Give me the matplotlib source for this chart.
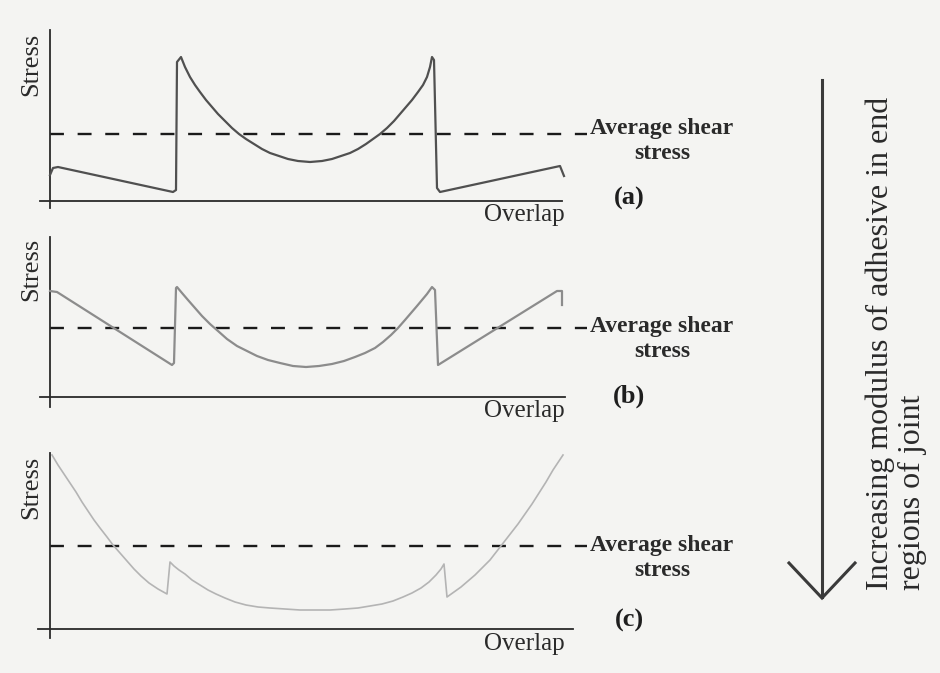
import matplotlib
matplotlib.use("Agg")
import matplotlib.pyplot as plt
from matplotlib.lines import Line2D

W, H = 940, 673
BG = "#f4f4f2"
SERIF = ["Liberation Serif", "DejaVu Serif"]

# ---- curve data: overlap position (from the left end of the joint) and shear stress ----
overlap_a = [0, 3, 8, 123, 126, 127,
             131, 135, 140, 145, 150, 156, 162, 168, 175, 182, 189, 196, 204, 212, 220,
             229, 238, 248, 260, 272, 282, 291, 300, 308, 316, 323, 330, 337, 344, 350,
             356, 362, 368, 373, 377, 380, 382,
             384, 387, 390, 510, 514]
stress_a = [26, 33, 34, 9, 11, 139,
            144, 134, 124, 116, 109, 101, 94, 87, 80, 73, 67, 62, 57, 52, 48,
            45, 42, 40, 39, 40, 42, 45, 48, 52, 57, 62, 67, 73, 80, 87,
            94, 101, 109, 116, 124, 134, 144,
            141, 13, 9, 35, 25]

overlap_b = [0, 7, 122, 124, 126,
             127, 132, 138, 145, 152, 160, 168, 177, 187, 197, 207, 218, 230, 243, 256,
             269, 282, 294, 305, 315, 325, 333, 341, 348, 355, 361, 367, 372, 377, 382,
             385, 388, 507, 512, 512]
stress_b = [106, 105, 32, 34, 109,
            110, 104, 97, 89, 81, 73, 66, 58, 51, 46, 41, 37, 34, 31, 30,
            31, 33, 36, 40, 44, 49, 55, 62, 69, 77, 84, 91, 97, 103, 110,
            107, 32, 106, 106, 92]

overlap_c = [2, 8, 14, 20, 26, 32, 38, 44, 50, 57, 63, 70, 77, 84, 91, 99, 108, 117,
             120, 124, 129, 135, 142, 150, 158, 166, 175, 185, 196, 208, 220, 235, 250,
             265, 280, 295, 308, 320, 332, 343, 353, 362, 371, 379, 386, 391, 394,
             397, 404, 411, 418, 425, 432, 440, 447, 454, 461, 468, 475, 482, 489, 496,
             503, 509, 513]
stress_c = [174, 164, 155, 146, 137, 127, 118, 109, 101, 92, 84, 76, 68, 60, 53, 46, 40, 35,
            67, 63, 59, 55, 49, 44, 39, 35, 31, 27, 24, 22, 21, 20, 19,
            19, 19, 20, 21, 23, 25, 28, 32, 36, 41, 47, 54, 60, 65,
            32, 37, 42, 48, 54, 61, 69, 78, 87, 96, 105, 115, 125, 136, 147,
            159, 168, 174]

avg_stress = [67, 69, 83]
panel_labels = ["(a)", "(b)", "(c)"]
curve_colors = ["#505050", "#8c8c8c", "#b4b4b4"]
curve_widths = [1.6, 1.6, 1.2]

# ---- pixel layout of the three panels
panels = [
    dict(top=20, bottom=222, base=201, ytop=30, ybot=208, xl=40, xr=562, over_y=215,
         stress_y=64, avg_y=141, lab_y=198),
    dict(top=228, bottom=425, base=397, ytop=237, ybot=407, xl=40, xr=565, over_y=411,
         stress_y=269, avg_y=339, lab_y=396),
    dict(top=440, bottom=665, base=629, ytop=453, ybot=638, xl=38, xr=573, over_y=644,
         stress_y=487, avg_y=558, lab_y=620),
]
X0 = 50  # pixel column of the stress axis

fig = plt.figure(figsize=(W / 100, H / 100), dpi=100, facecolor=BG)


def fx(px):
    return px / W


def fy(py):
    return 1 - py / H


series = [(overlap_a, stress_a), (overlap_b, stress_b), (overlap_c, stress_c)]

for i, p in enumerate(panels):
    ax = fig.add_axes([0, fy(p["bottom"]), 600 / W, (p["bottom"] - p["top"]) / H])
    ax.set_xlim(-X0, 600 - X0)
    ax.set_ylim(p["base"] - p["bottom"], p["base"] - p["top"])
    ax.patch.set_visible(False)
    for s in ("top", "right"):
        ax.spines[s].set_visible(False)
    ax.spines["left"].set_position(("data", 0))
    ax.spines["bottom"].set_position(("data", 0))
    ax.spines["left"].set_bounds(p["base"] - p["ybot"], p["base"] - p["ytop"])
    ax.spines["bottom"].set_bounds(p["xl"] - X0, p["xr"] - X0)
    for s in ("left", "bottom"):
        ax.spines[s].set_color("#2a2a2a")
        ax.spines[s].set_linewidth(1.3)
    ax.set_xticks([])
    ax.set_yticks([])

    x, y = series[i]
    ax.plot(x, y, color=curve_colors[i], lw=curve_widths[i], solid_joinstyle="round",
            clip_on=False, zorder=3)
    ax.plot([0, 587 - X0], [avg_stress[i], avg_stress[i]], color="#1a1a1a", lw=1.7,
            dashes=(5.9, 5.8), clip_on=False, zorder=2)

    fig.text(fx(31), fy(p["stress_y"]), "Stress", rotation=90, ha="center", va="center",
             family=SERIF, fontsize=19, color="#2a2a2a")
    fig.text(fx(565), fy(p["over_y"]), "Overlap", ha="right", va="center",
             family=SERIF, fontsize=18, color="#2a2a2a")
    fig.text(fx(662), fy(p["avg_y"]), "Average shear\nstress", ha="center", va="center",
             multialignment="center", family=SERIF, fontsize=17, fontweight="bold",
             color="#2a2a2a", linespacing=1.25)
    fig.text(fx(629), fy(p["lab_y"]), panel_labels[i], ha="center", va="center",
             family=SERIF, fontsize=19, fontweight="bold", color="#1e1e1e")

# ---- direction arrow and its caption ----
ov = fig.add_axes([0, 0, 1, 1])
ov.set_xlim(0, W)
ov.set_ylim(H, 0)
ov.axis("off")
ov.patch.set_visible(False)
arrow_col = "#3a3a3a"
ov.add_line(Line2D([822, 822], [80, 597], color=arrow_col, lw=2.2))
ov.add_line(Line2D([789, 822, 855], [563, 598, 563], color=arrow_col, lw=2.2,
                   solid_joinstyle="miter"))
ov.text(896, 590, "Increasing modulus of adhesive in end\nregions of joint", rotation=90,
        ha="center", va="bottom", multialignment="left", family=SERIF, fontsize=23,
        color="#2a2a2a", linespacing=1.15)

fig.savefig("out.png", dpi=100, facecolor=BG)
